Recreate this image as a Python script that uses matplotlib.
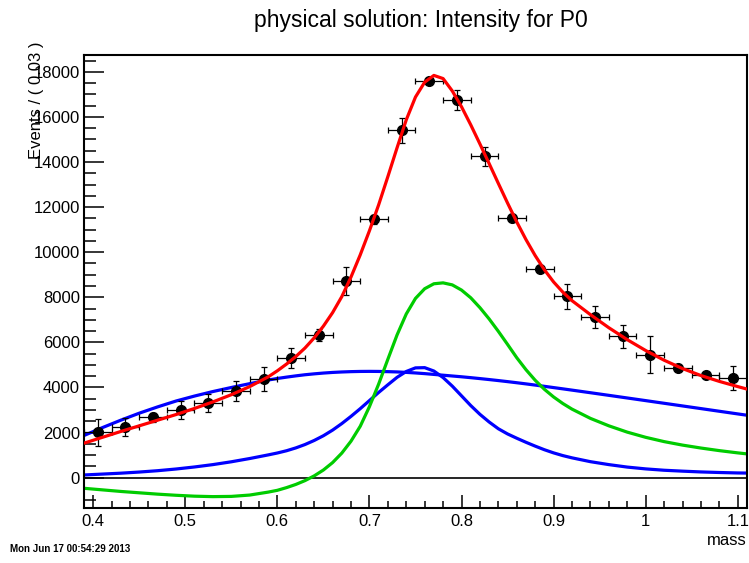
import numpy as np
import matplotlib
matplotlib.use("Agg")
import matplotlib.pyplot as plt
from matplotlib.ticker import MultipleLocator

plt.rcParams['font.family'] = ['Liberation Sans', 'DejaVu Sans']

# binned data (bin width 0.03)
mass = [0.405, 0.435, 0.465, 0.495, 0.525, 0.555, 0.585, 0.615, 0.645, 0.675,
        0.705, 0.735, 0.765, 0.795, 0.825, 0.855, 0.885, 0.915, 0.945, 0.975,
        1.005, 1.035, 1.065, 1.095]
events = [2010, 2250, 2690, 3015, 3310, 3830, 4375, 5310, 6340, 8740,
          11470, 15400, 17575, 16765, 14250, 11520, 9255, 8040, 7125, 6270,
          5455, 4865, 4540, 4420]
err = [600, 400, 200, 400, 400, 450, 520, 440, 270, 620,
       200, 550, 100, 440, 430, 150, 150, 570, 480, 520,
       810, 150, 100, 520]
xerr = 0.015

# curves
xc = [0.39, 0.41, 0.43, 0.45, 0.47, 0.49, 0.51, 0.53, 0.55, 0.57, 0.59,
      0.60, 0.61, 0.62, 0.63, 0.64, 0.65, 0.66, 0.67, 0.68, 0.69, 0.70,
      0.71, 0.72, 0.73, 0.74, 0.75, 0.76, 0.77, 0.78, 0.79, 0.80, 0.81,
      0.82, 0.83, 0.84, 0.85, 0.86, 0.87, 0.88, 0.89, 0.90, 0.91, 0.92,
      0.94, 0.96, 0.98, 1.00, 1.02, 1.04, 1.06, 1.08, 1.10, 1.11]
total = [1530, 1790, 2050, 2300, 2550, 2800, 3070, 3360, 3680, 4040, 4470,
         4740, 5040, 5370, 5750, 6200, 6720, 7320, 8030, 8900, 9880, 10950,
         12100, 13350, 14630, 15870, 16880, 17540, 17840, 17700, 17150, 16450, 15650,
         14800, 13930, 13050, 12180, 11340, 10560, 9850, 9220, 8680, 8230, 7850,
         7230, 6650, 6120, 5640, 5210, 4840, 4530, 4270, 4040, 3930]
broad = [1870, 2220, 2550, 2860, 3140, 3400, 3620, 3820, 4000, 4170, 4330,
         4400, 4460, 4515, 4565, 4605, 4640, 4668, 4688, 4703, 4712, 4715,
         4712, 4703, 4690, 4670, 4645, 4615, 4580, 4545, 4510, 4475, 4436,
         4395, 4352, 4307, 4260, 4211, 4160, 4107, 4052, 3996, 3940, 3883,
         3768, 3652, 3535, 3418, 3300, 3182, 3064, 2946, 2828, 2770]
narrow = [120, 160, 200, 250, 310, 385, 475, 580, 705, 850, 1010,
          1095, 1195, 1320, 1470, 1650, 1860, 2110, 2400, 2720, 3060, 3420,
          3780, 4120, 4450, 4710, 4870, 4880, 4730, 4440, 4060, 3630, 3200,
          2810, 2470, 2170, 1940, 1750, 1570, 1400, 1240, 1100, 980, 880,
          710, 580, 470, 390, 330, 290, 255, 230, 210, 205]
interf = [-470, -540, -610, -670, -730, -780, -820, -840, -830, -770, -640,
          -560, -440, -300, -130, 80, 340, 670, 1090, 1620, 2280, 3150,
          4150, 5250, 6330, 7260, 7950, 8380, 8600, 8640, 8550, 8320, 7980,
          7540, 7040, 6490, 5910, 5320, 4790, 4320, 3920, 3580, 3290, 3040,
          2630, 2300, 2020, 1790, 1600, 1445, 1315, 1200, 1100, 1055]

fig = plt.figure(figsize=(7.49, 5.63), dpi=100)
ax = fig.add_axes([0.1121, 0.0977, 0.8852, 0.8046])

ax.axhline(0, color='black', lw=1.2, zorder=1)
ax.plot(xc, broad, color='#0000ff', lw=2.3, zorder=2)
ax.plot(xc, narrow, color='#0000ff', lw=2.3, zorder=2)
ax.plot(xc, interf, color='#00cc00', lw=2.3, zorder=2)
ax.errorbar(mass, events, xerr=xerr, yerr=err, fmt='o', color='black',
            ms=7, elinewidth=0.9, capsize=2.2, capthick=0.9, zorder=3)
ax.plot(xc, total, color='#ff0000', lw=2.3, zorder=4)

ax.set_xlim(0.39, 1.11)
ax.set_ylim(-1344, 18745)
ax.xaxis.set_minor_locator(MultipleLocator(0.02))
ax.yaxis.set_major_locator(MultipleLocator(2000))
ax.yaxis.set_minor_locator(MultipleLocator(500))
ax.set_xticks([0.4, 0.5, 0.6, 0.7, 0.8, 0.9, 1.0, 1.1])
ax.set_xticklabels(['0.4', '0.5', '0.6', '0.7', '0.8', '0.9', '1', '1.1'])
ax.tick_params(axis='both', which='both', direction='in', top=False, right=False,
               labelsize=12, width=1.1)
ax.tick_params(axis='y', which='major', length=14.5, pad=3)
ax.tick_params(axis='y', which='minor', length=8.4)
ax.tick_params(axis='x', which='major', length=9.4, pad=4)
ax.tick_params(axis='x', which='minor', length=5)
for s in ax.spines.values():
    s.set_linewidth(1.5)

fig.text(0.562, 0.964, "physical solution: Intensity for P0", ha='center', va='center', fontsize=16.5)
fig.text(0.049, 0.927, "Events / ( 0.03 )", rotation=90, ha='center', va='top', fontsize=12)
fig.text(0.997, 0.04, "mass", ha='right', va='center', fontsize=12)
fig.text(0.013, 0.025, "Mon Jun 17 00:54:29 2013", ha='left', va='center', fontsize=7, fontweight='bold')

fig.savefig("out.png", dpi=100)
